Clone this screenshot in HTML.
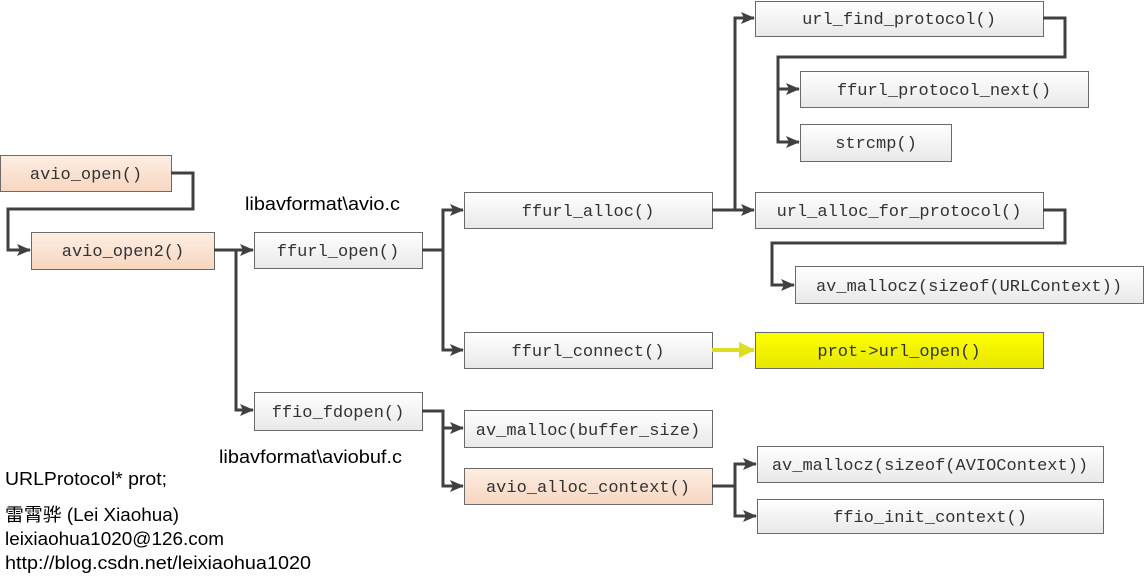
<!DOCTYPE html>
<html><head><meta charset="utf-8"><style>
html,body{margin:0;padding:0;background:#fff;width:1145px;height:579px;overflow:hidden}
svg{display:block}
.m{font-family:"Liberation Mono","Noto Sans CJK SC",monospace;font-size:17px;fill:#333}
.s{font-family:"Liberation Sans","Noto Sans CJK SC",sans-serif;font-size:18px;fill:#000}
</style></head><body>
<svg width="1145" height="579" viewBox="0 0 1145 579" xmlns="http://www.w3.org/2000/svg">
<defs>
<linearGradient id="g" x1="0" y1="0" x2="0" y2="1"><stop offset="0" stop-color="#ffffff"/><stop offset="1" stop-color="#e8e8e8"/></linearGradient>
<linearGradient id="p" x1="0" y1="0" x2="0" y2="1"><stop offset="0" stop-color="#fdeee3"/><stop offset="1" stop-color="#f6d6c0"/></linearGradient>
<linearGradient id="y" x1="0" y1="0" x2="0" y2="1"><stop offset="0" stop-color="#ffff00"/><stop offset="1" stop-color="#e6e600"/></linearGradient>
<marker id="a" markerWidth="14" markerHeight="12" refX="13" refY="6" orient="auto" markerUnits="userSpaceOnUse"><path d="M0,0 L14,6 L0,12 L3,6 z" fill="#404040"/></marker>
<marker id="ay" markerWidth="16" markerHeight="16" refX="15" refY="8" orient="auto" markerUnits="userSpaceOnUse"><path d="M0,0 L16,8 L0,16 z" fill="#dede20"/></marker>
</defs>
<g stroke="#6a6a6a" stroke-width="1">
<rect x="0.5" y="155.5" width="171" height="36" fill="url(#p)"/>
<rect x="31.5" y="232.5" width="183" height="37" fill="url(#p)"/>
<rect x="254.5" y="232.5" width="168" height="36" fill="url(#g)"/>
<rect x="254.5" y="392.5" width="168" height="38" fill="url(#g)"/>
<rect x="464.5" y="192.5" width="248" height="36" fill="url(#g)"/>
<rect x="464.5" y="332.5" width="248" height="36" fill="url(#g)"/>
<rect x="464.5" y="410.5" width="248" height="37" fill="url(#g)"/>
<rect x="464.5" y="468.5" width="248" height="36" fill="url(#p)"/>
<rect x="755.5" y="1.5" width="288" height="35" fill="url(#g)"/>
<rect x="800.5" y="71.5" width="288" height="36" fill="url(#g)"/>
<rect x="800.5" y="124.5" width="151" height="37" fill="url(#g)"/>
<rect x="755.5" y="192.5" width="288" height="36" fill="url(#g)"/>
<rect x="795.5" y="266.5" width="348" height="37" fill="url(#g)"/>
<rect x="755.5" y="332.5" width="288" height="36" fill="url(#y)"/>
<rect x="757.5" y="446.5" width="346" height="36" fill="url(#g)"/>
<rect x="757.5" y="499.5" width="346" height="34" fill="url(#g)"/>
</g>
<g stroke="#404040" stroke-width="3" fill="none">
<path d="M171,173 H193 V209 H8 V250 H30" marker-end="url(#a)"/>
<path d="M214,250 H253" marker-end="url(#a)"/>
<path d="M236,250 V410 H253" marker-end="url(#a)"/>
<path d="M422,250 H443"/>
<path d="M443,350 V210 H463" marker-end="url(#a)"/>
<path d="M443,250 V350 H463" marker-end="url(#a)"/>
<path d="M422,411 H443 V428 H463" marker-end="url(#a)"/>
<path d="M443,428 V486 H463" marker-end="url(#a)"/>
<path d="M712,210 H754" marker-end="url(#a)"/>
<path d="M735,210 V18 H754" marker-end="url(#a)"/>
<path d="M1043,18 H1065 V57 H778 V89 H799" marker-end="url(#a)"/>
<path d="M778,89 V142 H799" marker-end="url(#a)"/>
<path d="M1043,210 H1065 V243 H772 V285 H794" marker-end="url(#a)"/>
<path d="M712,486 H735 V464 H756" marker-end="url(#a)"/>
<path d="M735,486 V516 H756" marker-end="url(#a)"/>
</g>
<path d="M712,350 H754" stroke="#dede20" stroke-width="4" fill="none" marker-end="url(#ay)"/>
<g class="m" text-anchor="middle">
<text x="86" y="179">avio_open()</text>
<text x="123" y="256">avio_open2()</text>
<text x="338" y="256">ffurl_open()</text>
<text x="338" y="417">ffio_fdopen()</text>
<text x="588" y="216">ffurl_alloc()</text>
<text x="588" y="356">ffurl_connect()</text>
<text x="588" y="435">av_malloc(buffer_size)</text>
<text x="588" y="492">avio_alloc_context()</text>
<text x="899" y="24">url_find_protocol()</text>
<text x="944" y="95">ffurl_protocol_next()</text>
<text x="876" y="148">strcmp()</text>
<text x="899" y="216">url_alloc_for_protocol()</text>
<text x="969" y="291">av_mallocz(sizeof(URLContext))</text>
<text x="899" y="356">prot-&gt;url_open()</text>
<text x="930" y="470">av_mallocz(sizeof(AVIOContext))</text>
<text x="930" y="522">ffio_init_context()</text>
</g>
<g class="s">
<text x="245" y="210" textLength="155" lengthAdjust="spacingAndGlyphs">libavformat\avio.c</text>
<text x="219" y="463" textLength="183" lengthAdjust="spacingAndGlyphs">libavformat\aviobuf.c</text>
<text x="5" y="485" textLength="162" lengthAdjust="spacingAndGlyphs">URLProtocol* prot;</text>
<text x="5" y="521" textLength="174" lengthAdjust="spacingAndGlyphs">雷霄骅 (Lei Xiaohua)</text>
<text x="5" y="545" textLength="219" lengthAdjust="spacingAndGlyphs">leixiaohua1020@126.com</text>
<text x="5" y="569" textLength="306" lengthAdjust="spacingAndGlyphs">http://blog.csdn.net/leixiaohua1020</text>
</g>
</svg>
</body></html>
